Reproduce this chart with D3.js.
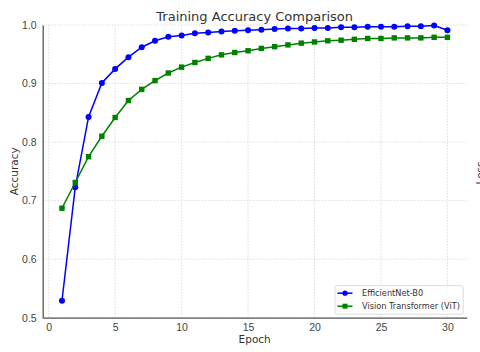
<!DOCTYPE html>
<html lang="en">
<head>
  <meta charset="UTF-8">
  <title>Training Accuracy Comparison</title>
  <style>
    body { margin: 0; background: #fff; overflow: hidden; }
    svg { font-family: 'DejaVu Sans', sans-serif; }
    .tick text { fill: #444; font-size: 10.5px; }
    .grid line { stroke: #ddd; stroke-dasharray: 1.5,1.5; }
  </style>
</head>
<body>
  <svg width="480" height="352"></svg>

  <script src="https://d3js.org/d3.v7.min.js"></script>
  <script>
    var epochs = d3.range(1, 31);

    var effnet = [0.529, 0.723, 0.843, 0.901, 0.925, 0.945, 0.962, 0.973, 0.980, 0.982,
                  0.986, 0.987, 0.989, 0.990, 0.991, 0.992, 0.993, 0.994, 0.994, 0.995,
                  0.995, 0.996, 0.996, 0.997, 0.997, 0.997, 0.998, 0.998, 0.999, 0.991];

    var vit = [0.687, 0.731, 0.775, 0.810, 0.842, 0.871, 0.890, 0.905, 0.918, 0.928,
               0.936, 0.943, 0.949, 0.953, 0.956, 0.960, 0.963, 0.966, 0.969, 0.971,
               0.973, 0.974, 0.9755, 0.977, 0.977, 0.978, 0.978, 0.978, 0.979, 0.979];

    var xTicks = [0, 5, 10, 15, 20, 25, 30];
    var yTicks = [0.5, 0.6, 0.7, 0.8, 0.9, 1.0];

    var series = [
      { name: "EfficientNet-B0", values: effnet, color: "#0000ff", marker: "circle" },
      { name: "Vision Transformer (ViT)", values: vit, color: "#008000", marker: "square" }
    ];

    var svg = d3.select("svg");
    var mLeft = 42.7, mRight = 466.7, mTop = 25, mBottom = 317.7;

    var x = d3.scaleLinear().domain([-0.45, 31.45]).range([mLeft, mRight]);
    var y = d3.scaleLinear().domain([0.5, 1.0]).range([mBottom, mTop]);

    // grid
    var grid = svg.append("g").attr("class", "grid");
    grid.selectAll(null).data(xTicks).enter().append("line")
      .attr("x1", d => x(d)).attr("x2", d => x(d))
      .attr("y1", mTop).attr("y2", mBottom);
    grid.selectAll(null).data(yTicks).enter().append("line")
      .attr("x1", mLeft).attr("x2", mRight)
      .attr("y1", d => y(d)).attr("y2", d => y(d));

    // axes
    var xAxis = svg.append("g")
      .attr("transform", "translate(0," + mBottom + ")")
      .call(d3.axisBottom(x).tickValues(xTicks).tickSize(0).tickPadding(6));
    var yAxis = svg.append("g")
      .attr("transform", "translate(" + mLeft + ",0)")
      .call(d3.axisLeft(y).tickValues(yTicks).tickFormat(d3.format(".1f")).tickSize(0).tickPadding(6));
    [xAxis, yAxis].forEach(function(a) {
      a.select(".domain").attr("stroke", "#555").attr("stroke-width", 1.3);
    });

    // lines
    var line = d3.line().x((d, i) => x(epochs[i])).y(d => y(d));
    var plot = svg.append("g");
    series.forEach(function(s) {
      plot.append("path")
        .attr("d", line(s.values))
        .attr("fill", "none")
        .attr("stroke", s.color)
        .attr("stroke-width", 1.5);
      if (s.marker === "circle") {
        plot.selectAll(null).data(s.values).enter().append("circle")
          .attr("cx", (d, i) => x(epochs[i]))
          .attr("cy", d => y(d))
          .attr("r", 3)
          .attr("fill", s.color);
      } else {
        plot.selectAll(null).data(s.values).enter().append("rect")
          .attr("x", (d, i) => x(epochs[i]) - 2.7)
          .attr("y", d => y(d) - 2.7)
          .attr("width", 5.4).attr("height", 5.4)
          .attr("fill", s.color);
      }
    });

    // title and labels
    svg.append("text")
      .attr("x", (mLeft + mRight) / 2).attr("y", 21)
      .attr("text-anchor", "middle")
      .attr("fill", "#333").style("font-size", "13px")
      .text("Training Accuracy Comparison");
    svg.append("text")
      .attr("x", (mLeft + mRight) / 2).attr("y", 343)
      .attr("text-anchor", "middle")
      .attr("fill", "#333").style("font-size", "10.5px")
      .text("Epoch");
    svg.append("text")
      .attr("transform", "translate(18," + ((mTop + mBottom) / 2) + ") rotate(-90)")
      .attr("text-anchor", "middle")
      .attr("fill", "#333").style("font-size", "10.5px")
      .text("Accuracy");
    // label of a neighbouring panel, cut by the edge
    svg.append("text")
      .attr("transform", "translate(484,173) rotate(-90)")
      .attr("text-anchor", "middle")
      .attr("fill", "#333").style("font-size", "10.5px")
      .text("Loss");

    // legend
    var lg = svg.append("g").attr("transform", "translate(335,285.7)");
    lg.append("rect")
      .attr("width", 128.3).attr("height", 28.6).attr("rx", 2)
      .attr("fill", "#fff").attr("fill-opacity", 0.8)
      .attr("stroke", "#ddd");
    series.forEach(function(s, i) {
      var cy = 7.5 + i * 13;
      var g = lg.append("g");
      g.append("line").attr("x1", 2.5).attr("x2", 17.5).attr("y1", cy).attr("y2", cy)
        .attr("stroke", s.color).attr("stroke-width", 1.5);
      if (s.marker === "circle") {
        g.append("circle").attr("cx", 10).attr("cy", cy).attr("r", 2.6).attr("fill", s.color);
      } else {
        g.append("rect").attr("x", 7.5).attr("y", cy - 2.5).attr("width", 5).attr("height", 5).attr("fill", s.color);
      }
      g.append("text").attr("x", 27).attr("y", cy + 3)
        .attr("fill", "#333").style("font-size", "8.2px")
        .text(s.name);
    });
  </script>
</body>
</html>
